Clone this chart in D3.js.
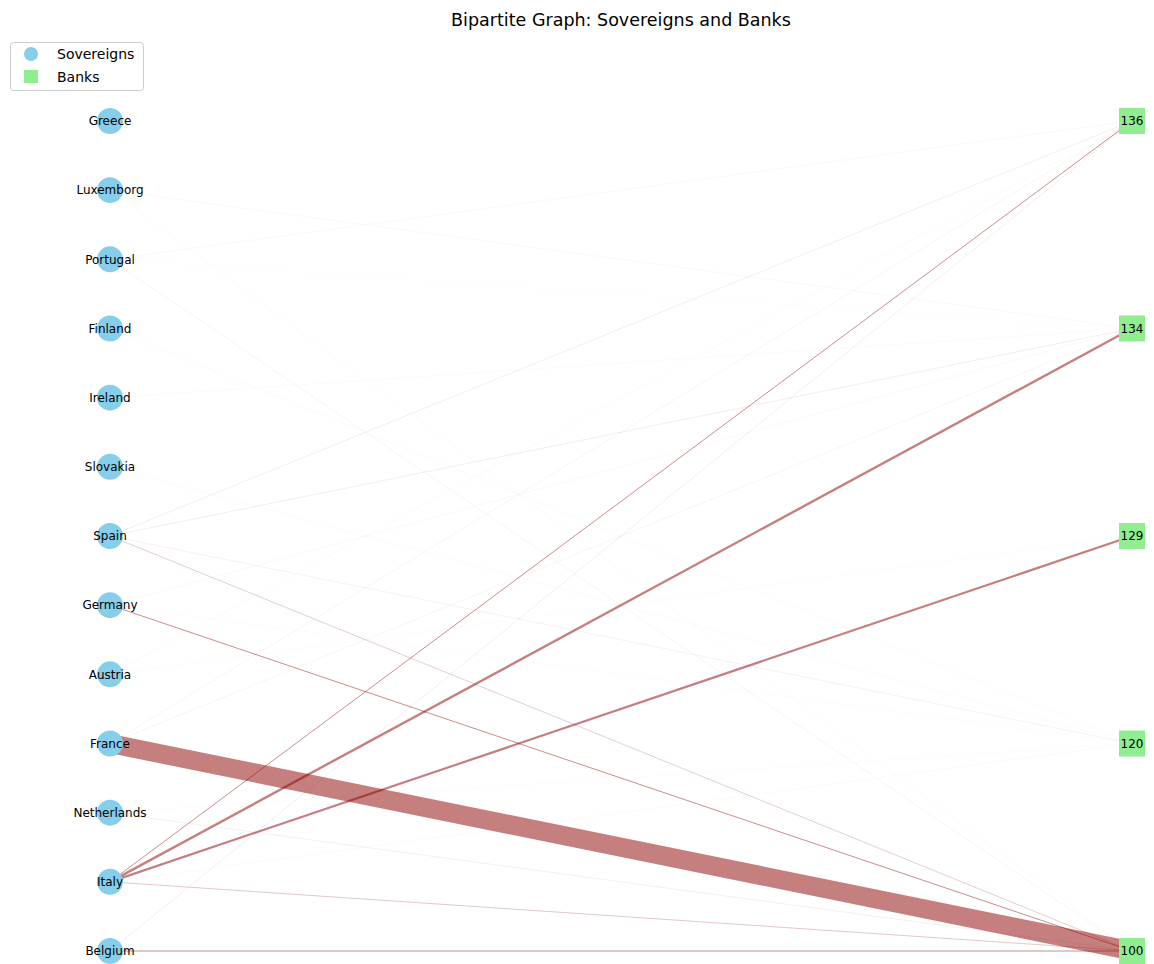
<!DOCTYPE html>
<html>
<head>
<meta charset="utf-8">
<script src="https://cdn.jsdelivr.net/npm/d3@7"></script>
<style>
  body { margin: 0; background: #fff; }
  svg { font-family: "DejaVu Sans", sans-serif; }
</style>
</head>
<body>
<svg id="chart" width="1154" height="964"></svg>
<script>
// NODES
var sovereigns = ["Greece", "Luxemborg", "Portugal", "Finland", "Ireland", "Slovakia",
  "Spain", "Germany", "Austria", "France", "Netherlands", "Italy", "Belgium"];
var banks = ["136", "134", "129", "120", "100"];

// EDGES: sovereign, bank, exposure weight
var edgeSource = ["France", "Italy", "Italy", "Italy", "Germany", "Belgium", "Spain", "Italy",
  "Spain", "Spain", "Spain", "France", "France", "Belgium", "Netherlands", "Portugal",
  "Portugal", "Luxemborg", "Luxemborg", "Finland", "Ireland", "Slovakia", "Germany",
  "Germany", "Netherlands", "Italy", "Austria", "Austria", "Portugal"];
var edgeTarget = ["100", "134", "129", "136", "100", "100", "100", "100",
  "136", "134", "120", "136", "134", "136", "100", "100",
  "136", "134", "100", "120", "134", "120", "134",
  "120", "120", "120", "136", "129", "134"];
var edgeWeight = [19, 2.4, 2.2, 0.9, 0.9, 0.9, 0.4, 0.45,
  0.16, 0.15, 0.12, 0.1, 0.1, 0.15, 0.14, 0.1,
  0.07, 0.07, 0.05, 0.05, 0.05, 0.05, 0.07,
  0.04, 0.04, 0.05, 0.05, 0.04, 0.03];

var svg = d3.select("#chart");

var y = d3.scalePoint().domain(sovereigns).range([121, 951]);
var yBank = d3.scalePoint().domain(banks).range([121, 951]);
var xLeft = 110;
var xRight = 1132;
var w = d3.scaleLinear().domain([0, d3.max(edgeWeight)]).range([0, 19]);

var edges = edgeSource.map(function (s, i) {
  return { source: s, target: edgeTarget[i], weight: edgeWeight[i] };
});

// EDGES FIRST SO NODES SIT ON TOP
svg.append("g")
  .selectAll("line")
  .data(edges)
  .enter()
  .append("line")
  .attr("x1", xLeft)
  .attr("y1", (d) => y(d.source))
  .attr("x2", xRight)
  .attr("y2", (d) => yBank(d.target))
  .attr("stroke", "darkred")
  .attr("stroke-opacity", 0.5)
  .attr("stroke-width", (d) => w(d.weight));

// SOVEREIGN NODES
var left = svg.append("g");
left.selectAll("circle")
  .data(sovereigns)
  .enter()
  .append("circle")
  .attr("cx", xLeft)
  .attr("cy", (d) => y(d))
  .attr("r", 13)
  .attr("fill", "skyblue");
left.selectAll("text")
  .data(sovereigns)
  .enter()
  .append("text")
  .attr("x", xLeft)
  .attr("y", (d) => y(d))
  .attr("dy", "0.35em")
  .attr("text-anchor", "middle")
  .attr("font-size", 12)
  .text((d) => d);

// BANK NODES
var right = svg.append("g");
right.selectAll("rect")
  .data(banks)
  .enter()
  .append("rect")
  .attr("x", xRight - 13)
  .attr("y", (d) => yBank(d) - 13)
  .attr("width", 26)
  .attr("height", 26)
  .attr("fill", "lightgreen");
right.selectAll("text")
  .data(banks)
  .enter()
  .append("text")
  .attr("x", xRight)
  .attr("y", (d) => yBank(d))
  .attr("dy", "0.35em")
  .attr("text-anchor", "middle")
  .attr("font-size", 12)
  .text((d) => d);

// TITLE
svg.append("text")
  .attr("x", 621)
  .attr("y", 26)
  .attr("text-anchor", "middle")
  .attr("font-size", 17.5)
  .text("Bipartite Graph: Sovereigns and Banks");

// LEGEND
var legend = svg.append("g");
legend.append("rect")
  .attr("x", 10.5)
  .attr("y", 42.5)
  .attr("width", 133)
  .attr("height", 48)
  .attr("rx", 3)
  .attr("fill", "white")
  .attr("fill-opacity", 0.8)
  .attr("stroke", "#ccc");
legend.append("circle")
  .attr("cx", 31)
  .attr("cy", 54)
  .attr("r", 7)
  .attr("fill", "skyblue");
legend.append("rect")
  .attr("x", 24)
  .attr("y", 70)
  .attr("width", 14)
  .attr("height", 13)
  .attr("fill", "lightgreen");
legend.append("text")
  .attr("x", 57)
  .attr("y", 59)
  .attr("font-size", 14)
  .text("Sovereigns");
legend.append("text")
  .attr("x", 57)
  .attr("y", 82)
  .attr("font-size", 14)
  .text("Banks");
</script>
</body>
</html>
